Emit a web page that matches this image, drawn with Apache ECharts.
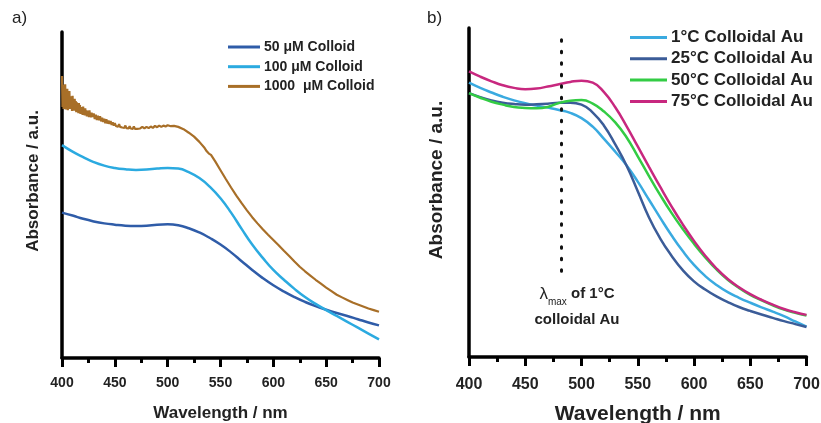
<!DOCTYPE html>
<html><head><meta charset="utf-8">
<script src="https://cdn.jsdelivr.net/npm/echarts@6/dist/echarts.min.js"></script>
<style>html,body{margin:0;padding:0;background:#fff}#c{width:821px;height:423px}</style>
</head><body><div id="c"></div>
<script>
// ---- Panel a: wavelength grid (nm) and absorbance (a.u.)
const wlA = [400,410,420,430,440,450,460,470,480,490,500,510,520,530,540,550,560,570,580,590,600,610,620,630,640,650,660,670,680,690,700];
const colloid50 = [44.6,43.7,42.7,41.9,41.3,40.9,40.6,40.5,40.6,40.9,41.0,40.7,39.8,38.5,36.8,34.8,32.4,29.7,27.0,24.5,22.3,20.4,18.7,17.2,15.9,14.8,13.8,12.9,11.9,10.9,10.0];
const colloid100 = [65.3,63.3,61.6,60.1,59.0,58.3,57.9,57.7,57.8,58.1,58.3,58.1,57.0,55.2,52.5,49.0,44.6,39.6,34.8,30.7,27.0,24.0,21.2,18.7,16.6,14.7,12.9,11.1,9.3,7.5,5.7];
// 1000 uM: noisy measured trace, [wavelength, absorbance]
const colloid1000 = [[400,86.5],[400.5,77.0],[401,83.8],[401.5,76.4],[402,82.9],[402.5,78.6],[403,84.0],[403.5,76.2],[404,81.5],[404.5,77.3],[405,82.6],[405.5,76.0],[406,79.8],[406.5,77.6],[407,81.9],[407.5,76.4],[408,80.3],[408.5,76.9],[409,79.6],[409.5,75.8],[410,80.4],[410.5,76.5],[411,78.2],[411.5,75.9],[412,79.5],[412.5,76.3],[413,78.8],[413.5,75.4],[414,78.4],[414.5,75.9],[415,77.3],[415.5,75.1],[416,78.2],[416.5,75.4],[417,77.6],[417.5,74.9],[418,77.0],[418.5,75.6],[419,76.9],[419.5,74.6],[420,77.1],[420.5,75.0],[421,76.3],[421.5,74.4],[422,76.6],[422.5,74.8],[423,76.0],[423.5,74.1],[424,75.9],[424.5,74.7],[425,75.4],[425.5,73.9],[426,76.0],[426.5,74.2],[427,75.1],[427.5,73.8],[428,75.3],[428.5,74.0],[429,74.6],[429.5,73.5],[430,75.0],[431,73.3],[432,74.6],[433,73.0],[434,74.3],[435,72.9],[436,74.2],[437,72.6],[438,73.7],[439,72.4],[440,73.4],[441,72.0],[442,73.2],[443,71.9],[444,72.8],[445,71.8],[446,72.7],[447,71.5],[448,72.3],[449,71.3],[450,72.0],[451,71.2],[452,71.8],[453,70.9],[454,71.7],[455,70.9],[456,71.5],[457,70.7],[458,71.3],[459,70.6],[460,71.3],[461,70.5],[462,71.1],[463,70.4],[464,71.1],[465,70.4],[466,70.9],[467,70.3],[468,71.0],[469,70.3],[470,70.9],[471,70.3],[472,70.9],[474,70.4],[476,70.9],[478,70.4],[480,70.9],[482,70.5],[484,71.0],[486,70.6],[488,71.2],[490,70.8],[492,71.3],[494,70.9],[496,71.3],[498,71.0],[500,71.4],[503,71.1],[506,71.2],[510,70.9],[515,70.2],[520,69.1],[525,67.9],[530,66.3],[535,64.4],[537,63.4],[539,62.7],[541,62.3],[545,60.3],[550,57.6],[555,54.9],[560,52.3],[565,49.8],[570,47.5],[575,45.3],[580,43.2],[585,41.3],[590,39.5],[595,37.8],[600,36.2],[605,34.6],[610,32.9],[615,31.3],[620,29.6],[625,28.0],[630,26.6],[635,25.3],[640,24.0],[645,22.8],[650,21.6],[655,20.5],[660,19.4],[665,18.6],[670,17.8],[675,17.0],[680,16.4],[685,15.8],[690,15.2],[695,14.7],[700,14.2]];
// ---- Panel b
const wlB = [400,410,420,430,440,450,460,470,480,490,500,510,520,530,540,550,560,570,580,590,600,610,620,630,640,650,660,670,680,690,700];
const au1C  = [83.4,81.8,80.4,79.1,78.0,77.1,76.4,75.8,75.1,74.2,72.6,70.0,66.3,62.4,58.3,53.3,47.8,42.3,37.0,32.2,28.0,24.6,21.9,19.7,18.0,16.5,15.1,13.8,12.4,10.8,9.2];
const au25C = [80.2,79.0,78.0,77.3,76.9,76.7,76.8,77.0,77.3,77.3,76.7,74.3,70.3,64.6,58.2,50.4,42.4,36.0,30.8,26.4,23.0,20.5,18.4,16.7,15.2,14.0,12.9,11.9,10.9,10.0,9.1];
const au50C = [80.2,78.8,77.6,76.7,76.0,75.7,75.6,76.0,77.2,77.9,78.1,77.0,74.6,71.3,66.8,61.0,55.0,49.2,43.8,38.9,34.4,30.3,26.6,23.5,21.0,18.9,17.2,15.7,14.4,13.4,12.6];
const au75C = [86.8,85.2,83.8,82.6,81.8,81.4,81.6,82.2,82.9,83.6,84.0,83.4,80.5,75.9,70.2,64.0,57.8,51.7,45.8,40.3,35.3,30.8,26.9,23.7,21.2,19.1,17.4,15.9,14.6,13.6,12.8];
const lambdaMax1C = 482;
const namesA = ['50 \u03bcM Colloid','100 \u03bcM Colloid','1000  \u03bcM Colloid'];
const namesB = ['1\u00b0C Colloidal Au','25\u00b0C Colloidal Au','50\u00b0C Colloidal Au','75\u00b0C Colloidal Au'];

const pairs = (xs, ys) => xs.map((x, i) => [x, ys[i]]);
const FONT = 'Liberation Sans, Arial, sans-serif';
const chart = echarts.init(document.getElementById('c'));
function xAxis(gi, fs, nfs, gap, margin){
  return {type:'value', gridIndex:gi, min:400, max:700, interval:50,
    axisLine:{show:true, onZero:false, lineStyle:{color:'#000', width:3.5}},
    axisTick:{show:true, inside:false, length:9, lineStyle:{color:'#000', width:3}},
    minorTick:{show:true, splitNumber:2, length:5, lineStyle:{color:'#000', width:3}},
    axisLabel:{fontFamily:FONT, fontWeight:'bold', fontSize:fs, color:'#222', margin:margin},
    splitLine:{show:false}, minorSplitLine:{show:false},
    name:'Wavelength / nm', nameLocation:'middle', nameGap:gap,
    nameTextStyle:{fontFamily:FONT, fontWeight:'bold', fontSize:nfs, color:'#222'}};
}
function yAxis(gi){
  return {type:'value', gridIndex:gi, min:0, max:100,
    axisLine:{show:true, lineStyle:{color:'#000', width:3.5}},
    axisTick:{show:false}, axisLabel:{show:false}, splitLine:{show:false}};
}
function line(name, data, color, xi, smooth, w){
  return {type:'line', name:name, data:data, xAxisIndex:xi, yAxisIndex:xi, showSymbol:false, symbol:'none',
    smooth:smooth, lineStyle:{color:color, width:w||2.5}, itemStyle:{color:color}, z:3};
}
const cA = ['#2F5CA8','#2BAAE0','#A86F28'];
const cB = ['#3AAAE0','#3B5C98','#33CC44','#C8287F'];
const dotted = line('lambda', [], '#000', 1, false);
dotted.markLine = {silent:true, symbol:'none', label:{show:false},
  lineStyle:{color:'#111', type:[1.5,10], width:3, cap:'round'},
  data:[[{coord:[lambdaMax1C, 96.4]},{coord:[lambdaMax1C, 25.0]}]]};
chart.setOption({
  animation:false,
  grid:[{left:62, top:32, width:317, height:326, outerBoundsMode:'none', containLabel:false},
        {left:469, top:28, width:337.5, height:329, outerBoundsMode:'none', containLabel:false}],
  xAxis:[xAxis(0,14,17,47,18), xAxis(1,16,21,47,20)],
  yAxis:[yAxis(0), yAxis(1)],
  legend:[
    {data:namesA, orient:'vertical', left:223, top:35, itemWidth:32, itemHeight:3, itemGap:5.7, icon:'rect',
     textStyle:{fontFamily:FONT, fontWeight:'bold', fontSize:14, lineHeight:14, color:'#222', padding:[0,0,0,-1]}},
    {data:namesB, orient:'vertical', left:625, top:24, itemWidth:37, itemHeight:3, itemGap:4.3, icon:'rect',
     textStyle:{fontFamily:FONT, fontWeight:'bold', fontSize:17, lineHeight:17, color:'#222', padding:[0,0,0,-1]}}
  ],
  graphic:[
    {type:'text', x:12, y:10, style:{text:'a)', font:'17px '+FONT, fill:'#222'}},
    {type:'text', x:427, y:10, style:{text:'b)', font:'17px '+FONT, fill:'#222'}},
    {type:'text', x:33, y:181, rotation:Math.PI/2, style:{text:'Absorbance / a.u.', font:'bold 17px '+FONT, fill:'#222', align:'center', verticalAlign:'middle'}},
    {type:'text', x:437, y:180, rotation:Math.PI/2, style:{text:'Absorbance / a.u.', font:'bold 19px '+FONT, fill:'#222', align:'center', verticalAlign:'middle'}},
    {type:'text', x:577, y:307, style:{
      text:'{l|\u03bb}{s|max}{b| of 1\u00b0C}\n{b|colloidal Au}', align:'center', verticalAlign:'middle',
      rich:{l:{fontFamily:FONT, fontSize:17, lineHeight:26, fill:'#222'},
            s:{fontFamily:FONT, fontSize:10, lineHeight:12, verticalAlign:'bottom', fill:'#222'},
            b:{fontFamily:FONT, fontWeight:'bold', fontSize:15, lineHeight:26, fill:'#222'}}}}
  ],
  series:[
    line(namesA[0], pairs(wlA, colloid50), cA[0], 0, 0.5),
    line(namesA[1], pairs(wlA, colloid100), cA[1], 0, 0.5),
    line(namesA[2], colloid1000, cA[2], 0, false, 2.2),
    line(namesB[0], pairs(wlB, au1C), cB[0], 1, 0.5),
    line(namesB[1], pairs(wlB, au25C), cB[1], 1, 0.5),
    line(namesB[2], pairs(wlB, au50C), cB[2], 1, 0.5),
    line(namesB[3], pairs(wlB, au75C), cB[3], 1, 0.5),
    dotted
  ]
});
</script></body></html>
